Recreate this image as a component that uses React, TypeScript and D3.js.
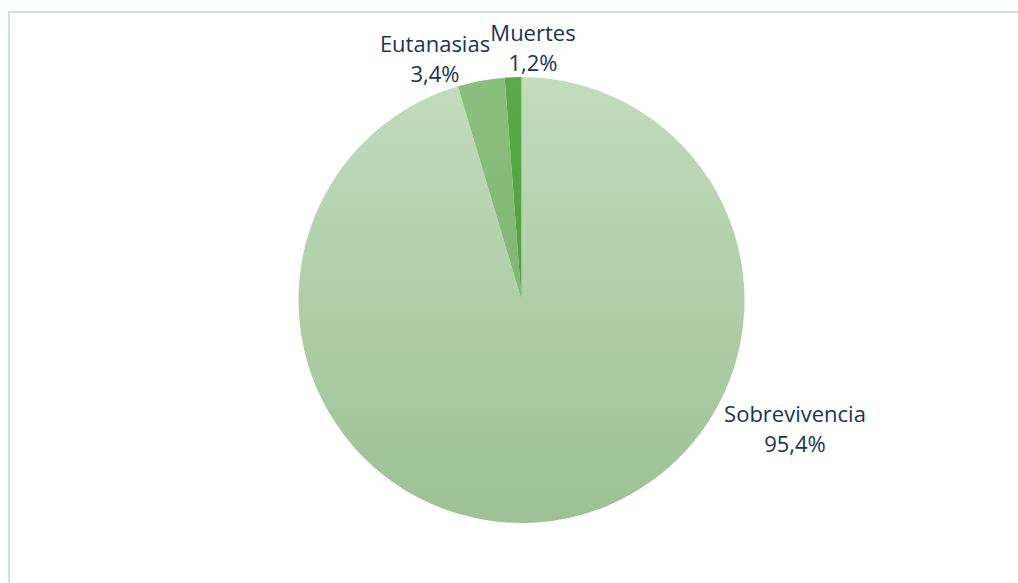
import React from "react";
import * as d3 from "d3";

const categories = ["Sobrevivencia", "Eutanasias", "Muertes"];
const values = [95.4, 3.4, 1.2];
const valueLabels = ["95,4%", "3,4%", "1,2%"];

const W = 1018;
const H = 583;
const cx = 521.5;
const cy = 300;
const R = 223;

const labelPos: Record<string, [number, number]> = {
  Sobrevivencia: [795, 422],
  Eutanasias: [435, 52],
  Muertes: [533, 41],
};

export default function App() {
  const pie = d3.pie<number>().sort(null).value((d) => d);
  const arcs = pie(values);
  const arc = d3.arc<d3.PieArcDatum<number>>().innerRadius(0).outerRadius(R);
  const fills = ["url(#gSob)", "url(#gEut)", "url(#gMue)"];
  return (
    <svg
      width={W}
      height={H}
      style={{ position: "absolute", left: 0, top: 0, background: "#fff" }}
    >
      <defs>
        <linearGradient id="gSob" x1="0" y1={-R} x2="0" y2={R} gradientUnits="userSpaceOnUse">
          <stop offset="0" stopColor="#c2dcbc" />
          <stop offset="1" stopColor="#9dc095" />
        </linearGradient>
        <linearGradient id="gEut" x1="0" y1={-R} x2="0" y2={0} gradientUnits="userSpaceOnUse">
          <stop offset="0" stopColor="#8abf7e" />
          <stop offset="1" stopColor="#80b574" />
        </linearGradient>
        <linearGradient id="gMue" x1="0" y1={-R} x2="0" y2={0} gradientUnits="userSpaceOnUse">
          <stop offset="0" stopColor="#5ba94b" />
          <stop offset="1" stopColor="#4ea23c" />
        </linearGradient>
      </defs>
      <rect x={9} y={12} width={W + 10} height={H + 10} fill="none" stroke="#cfe0f3" strokeWidth={2} />
      <g transform={`translate(${cx},${cy})`}>
        {arcs.map((a, i) => (
          <path key={categories[i]} d={arc(a) || ""} fill={fills[i]} />
        ))}
      </g>
      {categories.map((c, i) => {
        const [x, y] = labelPos[c];
        return (
          <text
            key={c}
            x={x}
            y={y}
            textAnchor="middle"
            fill="#1d3352"
            fontFamily="'Open Sans', sans-serif"
            fontSize={22}
          >
            <tspan x={x}>{c}</tspan>
            <tspan x={x} dy={30}>{valueLabels[i]}</tspan>
          </text>
        );
      })}
    </svg>
  );
}
